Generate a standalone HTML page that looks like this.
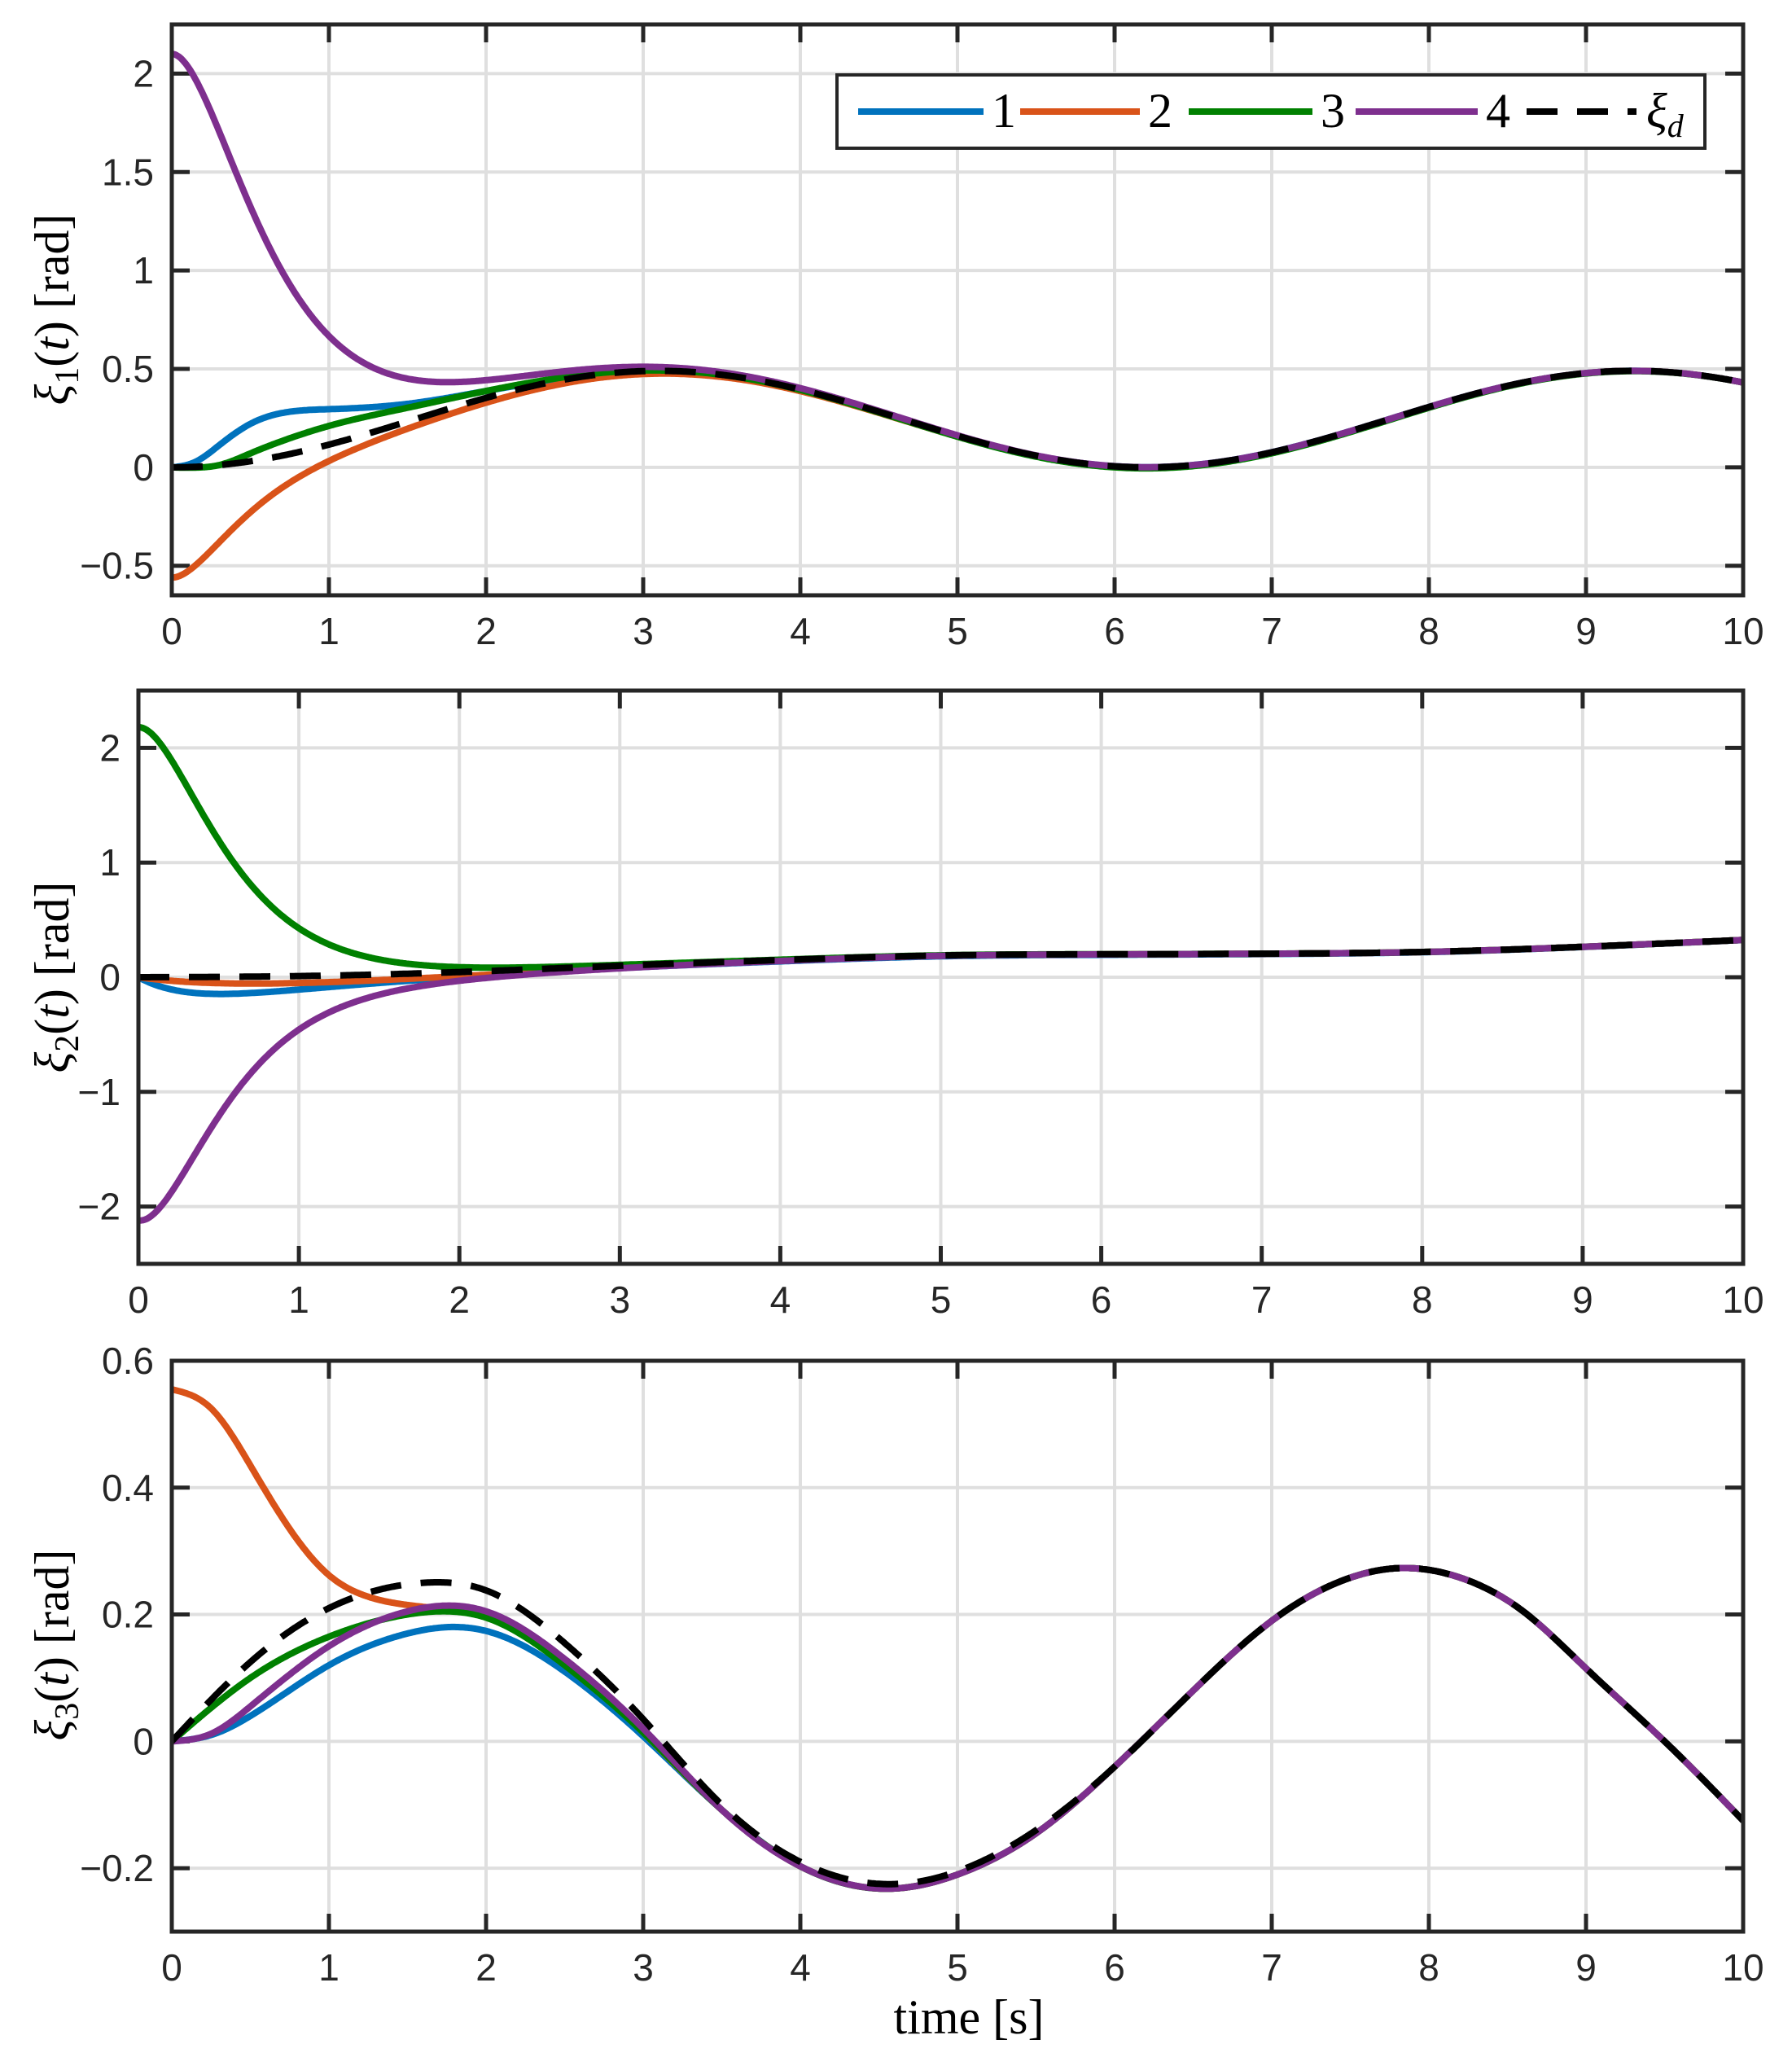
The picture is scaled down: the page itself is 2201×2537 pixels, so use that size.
<!DOCTYPE html>
<html><head><meta charset="utf-8"><style>
html,body{margin:0;padding:0;background:#fff;}
svg{display:block;}
.tk{font-family:"Liberation Sans",sans-serif;font-size:46px;fill:#262626;}
.lb{font-family:"Liberation Serif",serif;font-size:60px;fill:#000;}
</style></head><body>
<svg id="s" width="2201" height="2537" viewBox="0 0 2201 2537" xmlns="http://www.w3.org/2000/svg"></svg>
<script>
const S=document.getElementById('s');let H='';
const C={b:'#0072BD',o:'#D95319',g:'#008000',p:'#7E2F8E'};
function cr(pts){ // natural cubic spline
  const n=pts.length,x=pts.map(p=>p[0]),y=pts.map(p=>p[1]);
  const h=[],al=[],l=[1],mu=[0],z=[0],c=new Array(n).fill(0),b=[],d=[];
  for(let i=0;i<n-1;i++)h.push(x[i+1]-x[i]);
  for(let i=1;i<n-1;i++)al[i]=3/h[i]*(y[i+1]-y[i])-3/h[i-1]*(y[i]-y[i-1]);
  for(let i=1;i<n-1;i++){l[i]=2*(x[i+1]-x[i-1])-h[i-1]*mu[i-1];mu[i]=h[i]/l[i];z[i]=(al[i]-h[i-1]*z[i-1])/l[i];}
  l[n-1]=1;z[n-1]=0;
  for(let j=n-2;j>=0;j--){c[j]=z[j]-mu[j]*c[j+1];b[j]=(y[j+1]-y[j])/h[j]-h[j]*(c[j+1]+2*c[j])/3;d[j]=(c[j+1]-c[j])/(3*h[j]);}
  return function(t){
    if(t<=x[0])return y[0];if(t>=x[n-1])return y[n-1];
    let i=0;while(x[i+1]<t)i++;const u=t-x[i];
    return y[i]+b[i]*u+c[i]*u*u+d[i]*u*u*u;
  };
}
function axes(id,L,R,T,B,ymin,ymax,yt,ylabs){
  const X=t=>L+(R-L)*t/10, Y=v=>B-(B-T)*(v-ymin)/(ymax-ymin);
  H+=`<clipPath id="c${id}"><rect x="${L}" y="${T}" width="${R-L}" height="${B-T}"/></clipPath>`;
  for(let i=1;i<10;i++)H+=`<line x1="${X(i)}" y1="${T}" x2="${X(i)}" y2="${B}" stroke="#dfdfdf" stroke-width="4"/>`;
  yt.forEach(v=>H+=`<line x1="${L}" y1="${Y(v)}" x2="${R}" y2="${Y(v)}" stroke="#dfdfdf" stroke-width="4"/>`);
  for(let i=0;i<=10;i++){H+=`<line x1="${X(i)}" y1="${B}" x2="${X(i)}" y2="${B-22}" stroke="#262626" stroke-width="5"/><line x1="${X(i)}" y1="${T}" x2="${X(i)}" y2="${T+22}" stroke="#262626" stroke-width="5"/>`;
    H+=`<text class="tk" x="${X(i)}" y="${B+60}" text-anchor="middle">${i}</text>`;}
  yt.forEach((v,k)=>{H+=`<line x1="${L}" y1="${Y(v)}" x2="${L+22}" y2="${Y(v)}" stroke="#262626" stroke-width="5"/><line x1="${R}" y1="${Y(v)}" x2="${R-22}" y2="${Y(v)}" stroke="#262626" stroke-width="5"/>`;
    H+=`<text class="tk" x="${L-22}" y="${Y(v)+16}" text-anchor="end">${ylabs[k]}</text>`;});
  return {X,Y};
}
function curve(ax,id,f,col,dash){
  let d='';for(let i=0;i<=1000;i++){const t=i/100;d+=(i?'L':'M')+ax.X(t).toFixed(1)+' '+ax.Y(f(t)).toFixed(1);}
  H+=`<path d="${d}" fill="none" stroke="${col}" stroke-width="8" clip-path="url(#c${id})" ${dash?'stroke-dasharray="38 24"':''} stroke-linejoin="round"/>`;
}
function box(L,R,T,B){H+=`<rect x="${L}" y="${T}" width="${R-L}" height="${B-T}" fill="none" stroke="#262626" stroke-width="5"/>`;}
function ylab(x,y,n){H+=`<text class="lb" transform="translate(${x},${y}) rotate(-90)" text-anchor="middle"><tspan font-style="italic">ξ</tspan><tspan font-size="42" dy="12">${n}</tspan><tspan dy="-12">(</tspan><tspan font-style="italic">t</tspan>) [rad]</text>`;}

// Panel 1
let a=axes(1,211,2141,30,731,-0.65,2.25,[-0.5,0,0.5,1,1.5,2],['−0.5','0','0.5','1','1.5','2']);
const xd1=t=>0.245*(1-Math.cos(2*Math.PI*t/6.2));
const dec=(A,k)=>t=>A*(1+k*t)*Math.exp(-k*t);
const e1=[
 cr([[0,0],[0.15,0.025],[0.3,0.1],[0.5,0.19],[0.75,0.215],[1,0.18],[1.5,0.09],[2,0.035],[2.5,0.006],[3,0],[3.5,0],[10,0]]),
 t=>-0.56*(1+3.7*t)*Math.exp(-3.7*t)-0.06*t*t*Math.exp(-1.2*t),
 cr([[0,0],[0.15,-0.004],[0.3,0.0],[0.5,0.04],[0.75,0.08],[1,0.095],[1.5,0.07],[2,0.035],[2.5,0.012],[3,0.003],[3.5,0],[10,0]]),
 t=>dec(2.1,2.7)(t)+0.12*t*t*Math.exp(-1.4*t)];
['b','o','g','p'].forEach((c,i)=>curve(a,1,t=>xd1(t)+e1[i](t),C[c]));
curve(a,1,xd1,'#000',true);box(211,2141,30,731);ylab(84,380,'1');

// Panel 2
a=axes(2,170,2141,848,1552,-2.5,2.5,[-2,-1,0,1,2],['−2','−1','0','1','2']);
const xd2=cr([[0,0],[1,0.01],[2,0.045],[3,0.1],[4,0.15],[5,0.19],[6,0.2],[7,0.205],[8,0.22],[9,0.265],[10,0.325]]);
const e2=[
 t=>-0.75*t*Math.exp(-2*t)-0.03*t*Math.exp(-0.6*t),
 t=>-0.2*t*Math.exp(-1.2*t),
 t=>dec(2.18,3.1)(t)+0.04*t*Math.exp(-1.0*t),
 t=>dec(-2.12,3.1)(t)-0.25*t*Math.exp(-1.2*t)];
['b','o','g','p'].forEach((c,i)=>curve(a,2,t=>xd2(t)+e2[i](t),C[c]));
curve(a,2,xd2,'#000',true);box(170,2141,848,1552);ylab(84,1200,'2');

// Panel 3
a=axes(3,211,2141,1671,2372,-0.3,0.6,[-0.2,0,0.2,0.4,0.6],['−0.2','0','0.2','0.4','0.6']);
const xd3=cr([[0,0],[0.5,0.125],[1,0.21],[1.6,0.25],[2,0.238],[2.5,0.155],[3,0.035],[3.5,-0.1],[4,-0.19],[4.6,-0.225],[5,-0.205],[5.5,-0.14],[6,-0.04],[6.5,0.08],[7,0.19],[7.5,0.258],[7.8,0.273],[8.2,0.258],[8.6,0.205],[9,0.115],[9.5,0.0],[10,-0.125]]);
const tail=[[3.5,-0.108],[4,-0.197],[4.6,-0.232],[5,-0.21],[5.5,-0.145],[6,-0.04],[6.5,0.08],[7,0.19],[7.5,0.258],[7.8,0.273],[8.2,0.258],[8.6,0.205],[9,0.115],[9.5,0.0],[10,-0.125]];
const a3=[
 cr([[0,0],[0.25,0.01],[0.5,0.04],[1,0.12],[1.5,0.17],[1.75,0.18],[2,0.174],[2.5,0.11],[3,0.008]].concat(tail)),
 cr([[0,0.555],[0.25,0.525],[0.5,0.435],[0.75,0.335],[1,0.262],[1.25,0.228],[1.5,0.215],[1.75,0.208],[2,0.196],[2.5,0.125],[3,0.014]].concat(tail)),
 cr([[0,0],[0.5,0.1],[1,0.165],[1.5,0.2],[1.75,0.205],[2,0.195],[2.5,0.12],[3,0.014]].concat(tail)),
 cr([[0,0],[0.25,0.012],[0.5,0.055],[1,0.15],[1.5,0.205],[1.75,0.214],[2,0.205],[2.5,0.13],[3,0.02]].concat(tail))];
['b','o','g','p'].forEach((c,i)=>curve(a,3,a3[i],C[c]));
curve(a,3,xd3,'#000',true);box(211,2141,1671,2372);ylab(84,2020,'3');
H+=`<text class="lb" x="1190" y="2497" text-anchor="middle">time [s]</text>`;

// legend
H+=`<rect x="1028" y="92" width="1066" height="90" fill="#fff" stroke="#262626" stroke-width="4"/>`;
const lg=[[1054,1208,C.b,'1'],[1253,1400,C.o,'2'],[1460,1612,C.g,'3'],[1665,1815,C.p,'4']];
lg.forEach(e=>{H+=`<line x1="${e[0]}" y1="137" x2="${e[1]}" y2="137" stroke="${e[2]}" stroke-width="8"/><text class="lb" x="${e[1]+10}" y="156">${e[3]}</text>`;});
H+=`<line x1="1875" y1="137" x2="2010" y2="137" stroke="#000" stroke-width="8" stroke-dasharray="38 24"/><text class="lb" x="2022" y="156"><tspan font-style="italic">ξ</tspan><tspan font-size="40" font-style="italic" dy="12">d</tspan></text>`;
S.innerHTML=H;
</script>
</body></html>
